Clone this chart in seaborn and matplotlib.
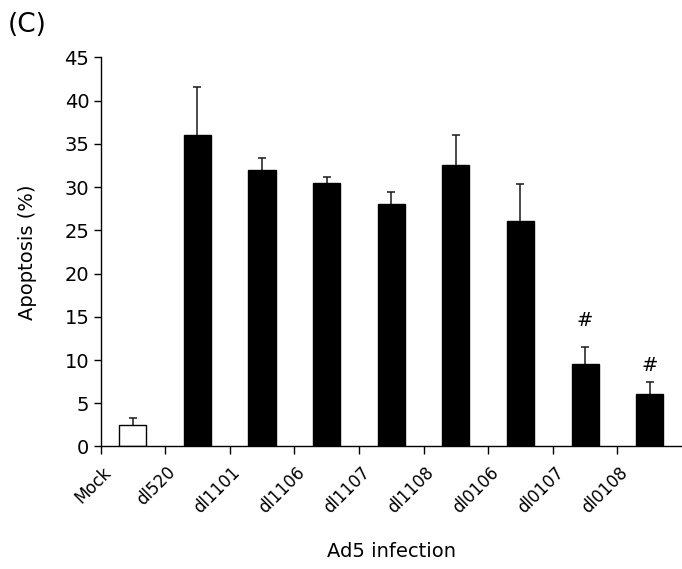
import matplotlib
matplotlib.use('Agg')
import matplotlib.pyplot as plt
import seaborn as sns
import pandas as pd
import numpy as np

# values
strains = ['Mock', 'dl520', 'dl1101', 'dl1106', 'dl1107', 'dl1108', 'dl0106', 'dl0107', 'dl0108']
apoptosis = [2.5, 36.0, 32.0, 30.5, 28.05, 32.6, 26.1, 9.55, 6.08]
sem = [0.75, 5.6, 1.35, 0.7, 1.35, 3.45, 4.2, 2.0, 1.35]
sig_strains = ['dl0107', 'dl0108']
sig_y = [14.6, 9.4]

sns.set_style('ticks')
plt.rcParams['font.family'] = ['DejaVu Sans']
plt.rcParams['text.color'] = 'black'
plt.rcParams['axes.labelcolor'] = 'black'
plt.rcParams['xtick.color'] = 'black'
plt.rcParams['ytick.color'] = 'black'
plt.rcParams['axes.edgecolor'] = 'black'

df = pd.DataFrame({'strain': strains, 'apoptosis': apoptosis, 'sem': sem})
bar_cols = ['white'] + ['black'] * (len(strains) - 1)

fig = plt.figure(figsize=(6.82, 5.69), dpi=100)
ax = fig.add_axes([0.1474, 0.2153, 0.8526, 0.684])

sns.barplot(data=df, x='strain', y='apoptosis', hue='strain', palette=bar_cols,
            legend=False, width=0.42, edgecolor='black', linewidth=1, ax=ax)
for p in ax.patches:
    p.set_zorder(2)

# upper error only; the lower half sits behind the bars
x = np.arange(len(strains))
ax.errorbar(x, df['apoptosis'], yerr=df['sem'], fmt='none', ecolor='#1a1a1a',
            elinewidth=1.1, capsize=3, capthick=1.1, zorder=1)

for s, y in zip(sig_strains, sig_y):
    ax.text(strains.index(s), y, '#', ha='center', va='center', fontsize=14)

ax.set_xlim(-0.5, len(strains) - 0.5)
ax.set_ylim(0, 45)
ax.set_yticks(np.arange(0, 46, 5))
ax.tick_params(axis='y', labelsize=14, length=5, width=1, pad=3)

# ticks between bars, labels shifted left of bar centres
ax.set_xticks(np.arange(-0.5, len(strains) - 1, 1.0))
ax.set_xticklabels([])
ax.tick_params(axis='x', which='major', length=6, width=1)
ax.set_xticks(x - 0.28, strains, minor=True)
ax.tick_params(axis='x', which='minor', length=0, labelsize=12, pad=12)
for lab in ax.get_xticklabels(minor=True):
    lab.set_rotation(45)
    lab.set_ha('right')

ax.set_xlabel('Ad5 infection', fontsize=14)
ax.set_ylabel('Apoptosis (%)', fontsize=14)
ax.xaxis.set_label_coords(0.5, -0.245)
ax.yaxis.set_label_coords(-0.11, 0.5)

sns.despine(ax=ax)
for sp in ['left', 'bottom']:
    ax.spines[sp].set_linewidth(1)

fig.text(8 / 682, 1 - 12 / 569, '(C)', fontsize=19, va='top', ha='left')

fig.savefig('out.png', dpi=100)
